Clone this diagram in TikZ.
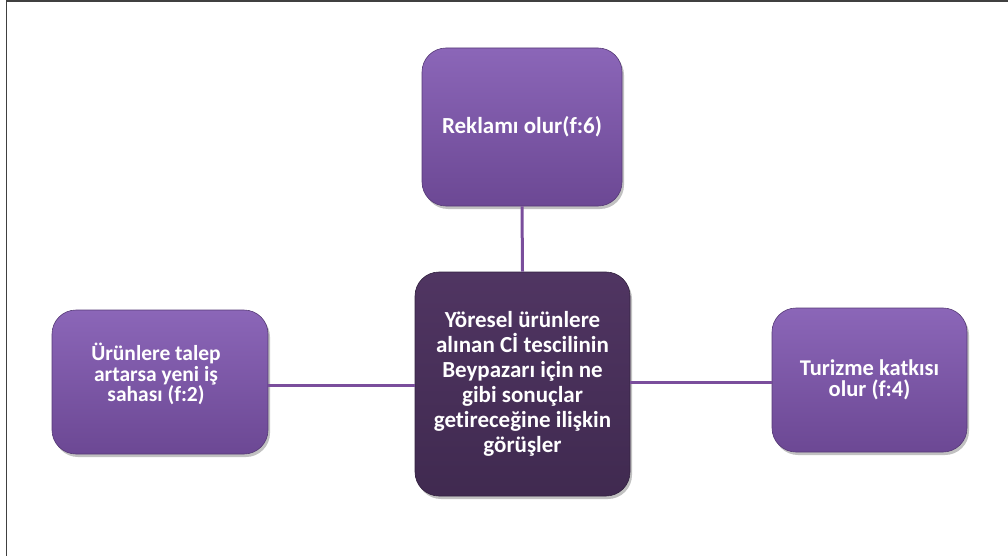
\documentclass[tikz,border=0pt]{standalone}
\usepackage{fontspec}
\setmainfont{Carlito}[Ligatures=NoCommon]
\usetikzlibrary{shadows}
\definecolor{boxtop}{HTML}{8B66B8}
\definecolor{boxbot}{HTML}{6C4894}
\definecolor{ctrtop}{HTML}{503562}
\definecolor{ctrbot}{HTML}{402A50}
\definecolor{linkc}{HTML}{7A4E9C}
\tikzset{
  box/.style={rounded corners=24pt, top color=boxtop, bottom color=boxbot, draw=boxbot!80!black, line width=0.6pt,
    text=white, font=\bfseries\fontsize{23}{25}\selectfont, align=center, inner sep=4pt,
    drop shadow={shadow xshift=2pt, shadow yshift=-3pt, opacity=0.35, fill=black!70}},
  ctr/.style={box, top color=ctrtop, bottom color=ctrbot, draw=ctrbot!80!black},
  txt/.style={text=white, align=center, inner sep=0pt},
  link/.style={draw=linkc, line width=3pt}
}
\begin{document}
\begin{tikzpicture}[x=1pt,y=-1pt]
\useasboundingbox (0,0) rectangle (1008,556);
\draw[line width=1.5pt, black!75] (6.5,556) -- (6.5,1) -- (1008,1);
\node[box, minimum width=200pt, minimum height=158pt] (top) at (522,127) {Reklamı olur(f:6)};
\node[ctr, minimum width=215pt, minimum height=224pt] (ctr) at (522.5,384)
  {Yöresel ürünlere\\ alınan Cİ tescilinin\\ Beypazarı için ne\\ gibi sonuçlar\\ getireceğine ilişkin\\ görüşler};
\node[box, minimum width=216pt, minimum height=144pt] (lft) at (160,382) {};
\node[txt, font=\bfseries\fontsize{21.5}{20.5}\selectfont] (lfttxt) at ([xshift=-4pt,yshift=8pt]lft.center) {Ürünlere talep\\ artarsa yeni iş\\ sahası (f:2)};
\node[box, minimum width=195pt, minimum height=144pt, font=\bfseries\fontsize{22.5}{20.5}\selectfont] (rgt) at (869.5,380) {Turizme katkısı\\ olur (f:4)};
\draw[link] (ctr.north) -- (top.south);
\draw[link] (lft.east |- 0,385) coordinate (la) -- (la -| ctr.west);
\draw[link] (ctr.east |- 0,382) coordinate (ra) -- (ra -| rgt.west);
\end{tikzpicture}
\end{document}
